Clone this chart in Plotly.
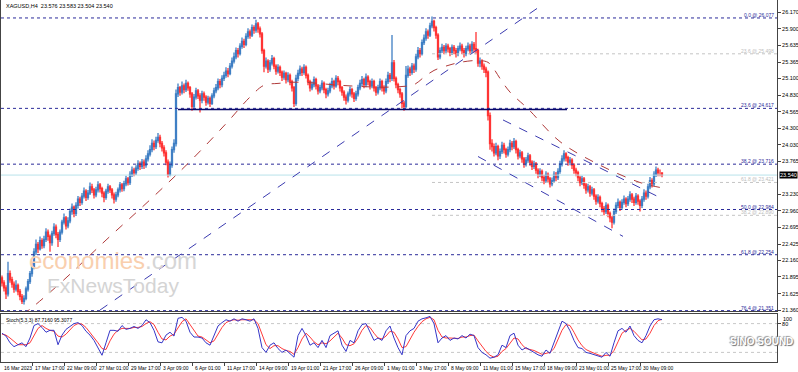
import plotly.graph_objects as go

# ---------------- DATA ----------------
opens = [
21.88,21.80,21.72,21.62,21.95,21.85,21.78,21.70,21.76,21.66,
21.58,21.50,21.55,21.70,21.82,21.95,22.05,22.30,22.42,22.35,
22.48,22.40,22.50,22.62,22.55,22.45,22.60,22.70,22.58,22.50,
22.62,22.78,22.85,22.72,22.80,22.95,23.02,22.92,23.05,23.15,
23.10,23.20,23.28,23.18,23.25,23.35,23.30,23.22,23.30,23.38,
23.32,23.25,23.18,23.28,23.35,23.30,23.22,23.15,23.22,23.30,
23.38,23.32,23.40,23.48,23.42,23.55,23.62,23.58,23.65,23.72,
23.68,23.75,23.70,23.80,23.88,23.95,24.05,24.00,24.10,24.15,
24.05,23.98,23.90,23.75,23.55,23.70,23.95,24.05,24.85,24.95,
24.88,24.98,24.92,25.02,24.95,24.85,24.65,24.80,24.90,24.82,
24.75,24.85,24.80,24.72,24.78,24.70,24.82,24.90,24.95,25.05,
25.00,25.10,25.15,25.22,25.18,25.30,25.38,25.45,25.55,25.50,
25.62,25.70,25.65,25.78,25.85,25.80,25.92,25.88,25.98,25.90,
25.82,25.55,25.30,25.38,25.25,25.35,25.42,25.30,25.22,25.28,
25.20,25.12,25.18,25.08,25.15,25.05,24.95,24.70,25.10,25.18,
25.25,25.20,25.28,25.15,25.05,24.95,25.00,25.08,24.98,24.90,
24.95,25.02,24.92,24.85,24.90,24.98,25.05,24.98,25.10,25.05,
24.95,24.88,24.80,24.75,24.85,24.92,24.85,24.78,24.85,24.95,
25.02,25.08,25.00,25.12,25.05,24.98,25.05,24.95,24.88,24.95,
25.05,24.95,24.90,25.05,25.15,25.10,25.35,25.10,25.00,24.92,
24.85,24.70,24.65,25.15,25.25,25.20,25.30,25.25,25.45,25.55,
25.50,25.68,25.75,25.85,25.80,25.95,26.02,25.92,25.80,25.45,
25.55,25.60,25.55,25.62,25.58,25.52,25.60,25.55,25.50,25.58,
25.62,25.55,25.50,25.58,25.62,25.55,25.65,25.58,25.55,25.35,
25.38,25.30,25.25,25.20,24.50,24.05,24.00,23.90,24.00,23.85,
23.92,24.02,23.95,23.88,23.95,24.05,24.00,24.08,23.95,23.85,
23.90,23.80,23.72,23.78,23.85,23.75,23.68,23.72,23.62,23.55,
23.60,23.50,23.45,23.55,23.48,23.40,23.45,23.55,23.50,23.60,
23.72,23.80,23.88,23.82,23.75,23.78,23.70,23.62,23.58,23.50,
23.42,23.48,23.38,23.30,23.35,23.25,23.30,23.20,23.12,23.18,
23.08,23.00,22.95,23.05,22.92,22.85,22.78,22.95,23.05,23.10,
23.02,23.10,23.15,23.08,23.15,23.22,23.15,23.10,23.20,23.12,
23.05,23.15,23.25,23.20,23.35,23.45,23.40,23.55,23.62,23.58,
23.576]

highs = [
21.92,21.84,21.76,22.14,22.00,21.90,21.82,21.84,21.79,21.70,
21.62,21.60,21.74,21.86,21.99,22.12,22.36,22.50,22.46,22.55,
22.52,22.56,22.68,22.66,22.58,22.64,22.76,22.74,22.62,22.66,
22.82,22.92,22.88,22.86,23.00,23.08,23.05,23.10,23.20,23.19,
23.25,23.34,23.31,23.30,23.42,23.40,23.33,23.35,23.44,23.41,
23.35,23.28,23.32,23.40,23.38,23.33,23.26,23.27,23.34,23.43,
23.41,23.45,23.53,23.51,23.60,23.68,23.66,23.70,23.78,23.76,
23.80,23.79,23.86,23.94,24.02,24.12,24.10,24.16,24.22,24.19,
24.09,24.02,23.94,23.79,23.76,24.00,24.12,24.92,25.02,24.98,
25.05,25.02,25.08,25.05,24.98,24.88,24.85,24.95,24.93,24.86,
24.90,24.89,24.83,24.82,24.81,24.86,24.95,25.01,25.10,25.09,
25.15,25.21,25.28,25.27,25.35,25.44,25.52,25.60,25.59,25.67,
25.76,25.74,25.83,25.91,25.89,25.97,25.96,26.05,26.01,25.94,
25.85,25.58,25.44,25.41,25.40,25.48,25.45,25.33,25.33,25.31,
25.23,25.23,25.21,25.20,25.18,25.08,24.98,25.16,25.24,25.31,
25.29,25.33,25.31,25.18,25.08,25.05,25.13,25.11,25.01,25.00,
25.07,25.05,24.95,24.95,25.03,25.11,25.08,25.15,25.14,25.08,
24.98,24.91,24.84,24.89,24.97,24.95,24.88,24.90,25.00,25.08,
25.14,25.11,25.18,25.15,25.08,25.10,25.08,24.98,25.00,25.10,
25.08,24.99,25.10,25.21,25.19,25.80,25.40,25.13,25.03,24.95,
24.88,24.74,25.30,25.31,25.29,25.35,25.34,25.50,25.61,25.59,
25.73,25.81,25.91,25.89,26.00,26.10,26.05,25.95,25.83,25.60,
25.66,25.64,25.67,25.66,25.61,25.65,25.64,25.59,25.63,25.68,
25.66,25.59,25.63,25.68,25.66,25.70,25.69,25.85,25.58,25.44,
25.41,25.34,25.29,25.23,24.55,24.12,24.05,24.06,24.03,23.97,
24.08,24.06,23.98,24.00,24.11,24.09,24.14,24.11,23.98,23.95,
23.93,23.83,23.83,23.90,23.88,23.78,23.77,23.75,23.65,23.65,
23.63,23.54,23.60,23.58,23.51,23.50,23.60,23.59,23.65,23.77,
23.86,23.94,23.91,23.85,23.83,23.81,23.73,23.66,23.61,23.53,
23.53,23.51,23.41,23.40,23.38,23.35,23.33,23.23,23.23,23.21,
23.11,23.04,23.10,23.08,22.95,22.88,23.00,23.10,23.16,23.13,
23.15,23.21,23.18,23.20,23.28,23.25,23.19,23.25,23.23,23.15,
23.20,23.31,23.29,23.40,23.51,23.49,23.60,23.68,23.66,23.63,
23.583]

lows = [
21.74,21.66,21.54,21.58,21.80,21.72,21.64,21.66,21.60,21.52,
21.46,21.45,21.52,21.66,21.78,21.90,22.02,22.25,22.28,22.32,
22.35,22.36,22.46,22.48,22.30,22.40,22.56,22.52,22.38,22.46,
22.58,22.74,22.66,22.68,22.76,22.90,22.86,22.88,23.00,23.04,
23.06,23.16,23.12,23.14,23.22,23.25,23.16,23.18,23.26,23.26,
23.18,23.10,23.14,23.24,23.25,23.16,23.08,23.11,23.18,23.26,
23.27,23.28,23.36,23.37,23.38,23.51,23.52,23.54,23.61,23.62,
23.64,23.64,23.66,23.76,23.84,23.91,23.94,23.96,24.06,23.99,
23.92,23.84,23.70,23.50,23.52,23.66,23.90,24.00,24.80,24.82,
24.84,24.86,24.88,24.90,24.79,24.58,24.62,24.76,24.77,24.55,
24.70,24.74,24.66,24.68,24.64,24.67,24.78,24.86,24.91,24.94,
24.96,25.06,25.11,25.12,25.15,25.26,25.34,25.41,25.44,25.47,
25.58,25.59,25.62,25.74,25.74,25.77,25.82,25.84,25.84,25.76,
25.50,25.20,25.26,25.19,25.21,25.31,25.25,25.16,25.18,25.14,
25.06,25.08,25.02,25.04,24.99,24.89,24.64,24.66,25.06,25.14,
25.14,25.16,25.10,24.99,24.89,24.91,24.96,24.92,24.84,24.86,
24.91,24.86,24.78,24.81,24.86,24.94,24.92,24.95,24.99,24.89,
24.82,24.74,24.68,24.71,24.81,24.79,24.72,24.74,24.81,24.91,
24.98,24.94,24.96,24.99,24.92,24.94,24.89,24.82,24.84,24.91,
24.89,24.84,24.86,25.01,25.04,25.06,25.05,24.94,24.86,24.79,
24.62,24.58,24.62,25.11,25.14,25.16,25.19,25.21,25.41,25.44,
25.47,25.64,25.71,25.74,25.77,25.91,25.86,25.74,25.40,25.41,
25.51,25.49,25.51,25.52,25.46,25.48,25.49,25.44,25.46,25.54,
25.49,25.44,25.46,25.54,25.49,25.51,25.52,25.49,25.29,25.28,
25.24,25.19,25.12,24.42,23.95,23.92,23.84,23.86,23.78,23.80,
23.88,23.89,23.82,23.84,23.91,23.94,23.96,23.89,23.79,23.81,
23.74,23.66,23.68,23.74,23.69,23.62,23.64,23.56,23.49,23.51,
23.44,23.39,23.41,23.42,23.34,23.36,23.41,23.44,23.46,23.56,
23.68,23.76,23.76,23.69,23.70,23.64,23.56,23.52,23.44,23.36,
23.38,23.32,23.24,23.26,23.19,23.21,23.14,23.06,23.08,23.02,
22.94,22.89,22.91,22.86,22.78,22.68,22.74,22.91,23.01,22.96,
22.98,23.06,23.02,23.04,23.11,23.09,23.04,23.06,23.06,22.95,
23.01,23.11,23.14,23.16,23.31,23.34,23.36,23.51,23.52,23.52,
23.504]

closes = [
21.80,21.72,21.62,21.95,21.85,21.78,21.70,21.76,21.66,21.58,
21.50,21.55,21.70,21.82,21.95,22.05,22.30,22.42,22.35,22.48,
22.40,22.50,22.62,22.55,22.45,22.60,22.70,22.58,22.50,22.62,
22.78,22.85,22.72,22.80,22.95,23.02,22.92,23.05,23.15,23.10,
23.20,23.28,23.18,23.25,23.35,23.30,23.22,23.30,23.38,23.32,
23.25,23.18,23.28,23.35,23.30,23.22,23.15,23.22,23.30,23.38,
23.32,23.40,23.48,23.42,23.55,23.62,23.58,23.65,23.72,23.68,
23.75,23.70,23.80,23.88,23.95,24.05,24.00,24.10,24.15,24.05,
23.98,23.90,23.75,23.55,23.70,23.95,24.05,24.85,24.95,24.88,
24.98,24.92,25.02,24.95,24.85,24.65,24.80,24.90,24.82,24.75,
24.85,24.80,24.72,24.78,24.70,24.82,24.90,24.95,25.05,25.00,
25.10,25.15,25.22,25.18,25.30,25.38,25.45,25.55,25.50,25.62,
25.70,25.65,25.78,25.85,25.80,25.92,25.88,25.98,25.90,25.82,
25.55,25.30,25.38,25.25,25.35,25.42,25.30,25.22,25.28,25.20,
25.12,25.18,25.08,25.15,25.05,24.95,24.70,25.10,25.18,25.25,
25.20,25.28,25.15,25.05,24.95,25.00,25.08,24.98,24.90,24.95,
25.02,24.92,24.85,24.90,24.98,25.05,24.98,25.10,25.05,24.95,
24.88,24.80,24.75,24.85,24.92,24.85,24.78,24.85,24.95,25.02,
25.08,25.00,25.12,25.05,24.98,25.05,24.95,24.88,24.95,25.05,
24.95,24.90,25.05,25.15,25.10,25.35,25.10,25.00,24.92,24.85,
24.70,24.65,25.15,25.25,25.20,25.30,25.25,25.45,25.55,25.50,
25.68,25.75,25.85,25.80,25.95,26.02,25.92,25.80,25.45,25.55,
25.60,25.55,25.62,25.58,25.52,25.60,25.55,25.50,25.58,25.62,
25.55,25.50,25.58,25.62,25.55,25.65,25.58,25.55,25.35,25.38,
25.30,25.25,25.20,24.50,24.05,24.00,23.90,24.00,23.85,23.92,
24.02,23.95,23.88,23.95,24.05,24.00,24.08,23.95,23.85,23.90,
23.80,23.72,23.78,23.85,23.75,23.68,23.72,23.62,23.55,23.60,
23.50,23.45,23.55,23.48,23.40,23.45,23.55,23.50,23.60,23.72,
23.80,23.88,23.82,23.75,23.78,23.70,23.62,23.58,23.50,23.42,
23.48,23.38,23.30,23.35,23.25,23.30,23.20,23.12,23.18,23.08,
23.00,22.95,23.05,22.92,22.85,22.78,22.95,23.05,23.10,23.02,
23.10,23.15,23.08,23.15,23.22,23.15,23.10,23.20,23.12,23.05,
23.15,23.25,23.20,23.35,23.45,23.40,23.55,23.62,23.58,23.58,
23.540]

bars = list(range(len(closes)))

# moving average: bar index -> value
ma_bars = [10, 15, 30, 52, 74, 94, 112, 124, 131, 138, 149, 169, 189, 200, 206,
           211, 216, 223, 229, 238, 243, 246, 249, 254, 263, 279, 299, 319, 329]
ma_vals = [21.28, 21.40, 21.82, 22.49, 23.14, 23.76, 24.37, 24.80, 24.99, 25.02,
           25.04, 24.99, 24.96, 24.97, 25.00, 25.12, 25.23, 25.31, 25.36, 25.39,
           25.36, 25.25, 25.10, 24.88, 24.61, 24.08, 23.70, 23.42, 23.34]

# stochastic (5,3,3), every second bar
stoch_bars = list(range(0, 331, 2))
stoch_k = [60,54,40,32,36,40,32,50,76,80,
           72,62,66,66,36,56,68,74,80,82,
           76,64,56,45,28,14,40,66,66,64,
           76,68,70,74,70,76,88,82,66,42,
           40,56,62,54,91,93,85,62,52,52,
           50,40,35,55,75,82,88,85,90,85,
           90,88,85,90,70,30,20,35,40,28,
           20,25,18,10,55,70,55,35,40,30,
           45,30,55,60,65,35,22,45,40,65,
           78,80,62,45,50,45,65,75,50,30,
           15,55,65,70,85,90,92,95,80,40,
           50,55,45,50,48,55,50,58,55,30,
           20,15,8,10,15,35,30,55,60,35,
           25,30,25,20,15,12,25,18,40,65,
           85,80,65,45,30,28,20,18,15,12,
           10,20,12,40,65,70,62,75,55,45,
           40,55,75,88,90,88]
stoch_d = [58,56,50,42,36,36,36,40,54,70,
           76,70,66,64,54,52,58,68,76,80,
           79,72,62,52,40,28,26,44,58,66,
           70,70,70,72,72,74,80,84,78,62,
           48,46,54,58,70,84,90,78,64,54,
           52,46,40,44,58,72,82,86,88,87,
           88,88,87,88,80,58,36,28,34,34,
           28,24,22,16,30,48,60,52,42,36,
           40,38,44,52,60,50,36,34,38,50,
           66,76,72,60,50,48,54,64,62,48,
           30,32,48,62,74,84,90,93,88,66,
           52,50,50,50,49,52,52,55,56,44,
           32,22,14,10,12,22,28,40,50,48,
           36,28,26,24,20,16,18,20,28,46,
           66,78,76,62,46,34,26,22,18,15,
           12,14,14,24,42,60,66,70,64,56,
           46,48,60,76,86,89]

# Fibonacci levels
fib_blue_vals = [26.077, 24.617, 23.716, 22.984, 22.254, 21.351]
fib_blue_text = ["0.0 @ 26.077", "23.6 @ 24.617", "38.2 @ 23.716",
                 "50.0 @ 22.984", "61.8 @ 22.254", "76.4 @ 21.351"]
fib_gray_vals = [25.498, 23.421, 22.890]
fib_gray_text = ["23.6 @ 25.498", "61.8 @ 23.421", "38.2 @ 22.890"]
fib_gray_start = 215

# drawn lines (bar index, price)
trend_up = ([49, 267.5], [21.36, 26.23])
channel_top = ([250.5, 330], [24.43, 23.16])
channel_bottom = ([238, 310.5], [23.84, 22.55])
support_line = ([88, 282.5], [24.60, 24.60])
last_price = 23.540

# axis labels
x_label_bars = [15 + 16 * k for k in range(20)]
x_label_text = ["17 Mar 17:00", "22 Mar 09:00", "27 Mar 01:00", "29 Mar 17:00",
                "3 Apr 09:00", "6 Apr 01:00", "11 Apr 17:00", "14 Apr 09:00",
                "19 Apr 01:00", "21 Apr 17:00", "26 Apr 09:00", "1 May 01:00",
                "3 May 17:00", "8 May 09:00", "11 May 01:00", "15 May 17:00",
                "18 May 09:00", "23 May 01:00", "25 May 17:00", "30 May 09:00"]
first_x_label = "16 Mar 2023"
y_tick_vals = [26.170, 25.900, 25.635, 25.365, 25.100, 24.830, 24.565, 24.300,
               24.030, 23.765, 23.230, 22.960, 22.695, 22.425, 22.160,
               21.895, 21.625, 21.360]

# ---------------- FIGURE ----------------
FONT = "Liberation Sans"
XR = [-0.5, 387.5]
W, H = 798, 372
ML, MR, MT, MB = 1, 21, 0, 10
PH = H - MT - MB
main_dom = [(PH - 311) / PH, 1]
stoch_dom = [0, (PH - 314) / PH]

fig = go.Figure()

for v in fib_blue_vals:
    fig.add_trace(go.Scatter(x=XR, y=[v, v], mode="lines", xaxis="x", yaxis="y",
                             line=dict(color="#2b2b9a", width=1, dash="dot"),
                             hoverinfo="skip", showlegend=False))
for v in fib_gray_vals:
    fig.add_trace(go.Scatter(x=[fib_gray_start, XR[1]], y=[v, v], mode="lines",
                             xaxis="x", yaxis="y",
                             line=dict(color="#c4c4c4", width=1, dash="dot"),
                             hoverinfo="skip", showlegend=False))
fig.add_trace(go.Scatter(x=XR, y=[last_price, last_price], mode="lines",
                         line=dict(color="#b8e2ea", width=1),
                         hoverinfo="skip", showlegend=False))
fig.add_trace(go.Scatter(x=support_line[0], y=support_line[1], mode="lines",
                         line=dict(color="#0a0a6a", width=1.6),
                         hoverinfo="skip", showlegend=False))

fig.add_trace(go.Candlestick(
    x=bars, open=opens, high=highs, low=lows, close=closes,
    increasing=dict(line=dict(color="#3f7fc4", width=1.3), fillcolor="#2a6cb3"),
    decreasing=dict(line=dict(color="#ff3434", width=1.3), fillcolor="#ff2020"),
    whiskerwidth=0, hoverinfo="skip", showlegend=False, xaxis="x", yaxis="y"))

fig.add_trace(go.Scatter(x=ma_bars, y=ma_vals, mode="lines",
                         line=dict(color="#b03a3a", width=1, dash="dash", shape="spline"),
                         hoverinfo="skip", showlegend=False))
for ln in (trend_up, channel_top, channel_bottom):
    fig.add_trace(go.Scatter(x=ln[0], y=ln[1], mode="lines",
                             line=dict(color="#3b3bb0", width=1, dash="dash"),
                             hoverinfo="skip", showlegend=False))

for lv in (80, 20):
    fig.add_trace(go.Scatter(x=XR, y=[lv, lv], mode="lines", xaxis="x2", yaxis="y2",
                             line=dict(color="#c8c8c8", width=1, dash="dot"),
                             hoverinfo="skip", showlegend=False))
fig.add_trace(go.Scatter(x=stoch_bars, y=stoch_d, mode="lines", xaxis="x2", yaxis="y2",
                         line=dict(color="#ff3a3a", width=1),
                         hoverinfo="skip", showlegend=False))
fig.add_trace(go.Scatter(x=stoch_bars, y=stoch_k, mode="lines", xaxis="x2", yaxis="y2",
                         line=dict(color="#3636c8", width=1),
                         hoverinfo="skip", showlegend=False))

ann = []
ann.append(dict(text="XAGUSD,H4  23.576 23.583 23.504 23.540", xref="paper", yref="paper",
                x=0, y=1, xanchor="left", yanchor="top", xshift=3, yshift=-1,
                showarrow=False, font=dict(family=FONT, size=5.5, color="#000")))
for v, t in zip(fib_blue_vals, fib_blue_text):
    ann.append(dict(text=t, xref="paper", yref="y", x=1, y=v, xanchor="right",
                    yanchor="bottom", xshift=-1, yshift=-2, showarrow=False,
                    font=dict(family=FONT, size=5, color="#2b2b9a")))
for v, t in zip(fib_gray_vals, fib_gray_text):
    ann.append(dict(text=t, xref="paper", yref="y", x=1, y=v, xanchor="right",
                    yanchor="bottom", xshift=-1, yshift=-2, showarrow=False,
                    font=dict(family=FONT, size=5, color="#bdbdbd")))
ann.append(dict(text="23.540", xref="paper", yref="y", x=1, y=last_price, xanchor="left",
                yanchor="middle", xshift=2, showarrow=False, bgcolor="#000",
                borderpad=0, font=dict(family=FONT, size=5.5, color="#fff")))
ann.append(dict(text=first_x_label, xref="x2", yref="paper", x=XR[0], y=0,
                xanchor="left", yanchor="top", xshift=1, yshift=-1, showarrow=False,
                font=dict(family=FONT, size=5, color="#000")))
for b, t in zip(x_label_bars, x_label_text):
    ann.append(dict(text=t, xref="x2", yref="paper", x=b, y=0, xanchor="left",
                    yanchor="top", xshift=1, yshift=-1, showarrow=False,
                    font=dict(family=FONT, size=5, color="#000")))
ann.append(dict(text="Stoch(5,3,3) 87.7160 95.3077", xref="paper", yref="paper",
                x=0, y=stoch_dom[1], xanchor="left", yanchor="top", xshift=3, yshift=-1,
                showarrow=False, font=dict(family=FONT, size=5, color="#000")))
ann.append(dict(text="100", xref="paper", yref="y2", x=1, y=100, xanchor="left",
                yanchor="top", xshift=4, yshift=0, showarrow=False,
                font=dict(family=FONT, size=5.5, color="#000")))
# watermarks
ann.append(dict(text="<span style='color:#f9cfae'>economies</span><span style='color:#d6d6d6'>.com</span>",
                xref="paper", yref="paper", x=26 / 776, y=(PH - 245) / PH,
                xanchor="left", yanchor="top", showarrow=False,
                font=dict(family=FONT, size=24)))
ann.append(dict(text="FxNewsToday", xref="paper", yref="paper", x=44 / 776,
                y=(PH - 272) / PH, xanchor="left", yanchor="top", showarrow=False,
                font=dict(family=FONT, size=21, color="#d4d4d4")))
# broadcaster logo (bottom right)
ann.append(dict(text="<b>SINO SOUND</b>", xref="paper", yref="paper", x=1, y=0,
                xanchor="right", yanchor="bottom", xshift=18, yshift=13, showarrow=False,
                font=dict(family=FONT, size=10, color="#ffffff",
                          shadow="1px 1px 1px #6e6e6e, -1px -1px 1px #9a9a9a")))

axis_common = dict(showgrid=False, zeroline=False, showline=True, linecolor="#444",
                   linewidth=1, mirror=True, automargin=False)
fig.update_layout(
    template="none",
    width=W, height=H, margin=dict(l=ML, r=MR, t=MT, b=MB, pad=0, autoexpand=False),
    paper_bgcolor="#fff", plot_bgcolor="#fff", showlegend=False,
    xaxis=dict(domain=[0, 1], range=XR, anchor="y", showticklabels=False, ticks="",
               rangeslider=dict(visible=False), **axis_common),
    yaxis=dict(domain=main_dom, range=[21.345, 26.367], side="right", anchor="x",
               tickvals=y_tick_vals, ticktext=["%.3f" % v for v in y_tick_vals],
               ticks="outside", ticklen=3, tickcolor="#444",
               tickfont=dict(family=FONT, size=5.5, color="#000"), **axis_common),
    xaxis2=dict(domain=[0, 1], range=XR, anchor="y2", showticklabels=False,
                ticks="outside", ticklen=3, tickcolor="#444", tickvals=x_label_bars,
                **axis_common),
    yaxis2=dict(domain=stoch_dom, range=[0, 100], side="right", anchor="x2",
                tickvals=[80], ticktext=["80"], ticks="outside", ticklen=3,
                tickcolor="#444", tickfont=dict(family=FONT, size=5.5, color="#000"),
                **axis_common),
    annotations=ann,
)

fig.write_html("out.html", config={"displayModeBar": False, "staticPlot": True},
               post_script="document.body.style.margin='0px';document.body.style.overflow='hidden';")
